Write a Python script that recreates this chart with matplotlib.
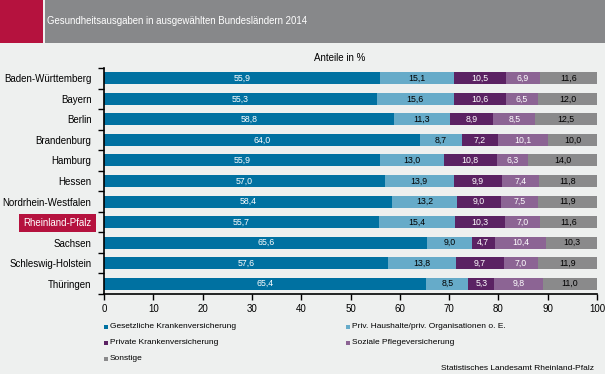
import matplotlib
matplotlib.use("Agg")
import matplotlib.pyplot as plt
from matplotlib.patches import Rectangle
import numpy as np

states = ["Baden-Württemberg", "Bayern", "Berlin", "Brandenburg", "Hamburg", "Hessen",
          "Nordrhein-Westfalen", "Rheinland-Pfalz", "Sachsen", "Schleswig-Holstein", "Thüringen"]
gkv = [55.9, 55.3, 58.8, 64.0, 55.9, 57.0, 58.4, 55.7, 65.6, 57.6, 65.4]
priv_hh = [15.1, 15.6, 11.3, 8.7, 13.0, 13.9, 13.2, 15.4, 9.0, 13.8, 8.5]
pkv = [10.5, 10.6, 8.9, 7.2, 10.8, 9.9, 9.0, 10.3, 4.7, 9.7, 5.3]
spv = [6.9, 6.5, 8.5, 10.1, 6.3, 7.4, 7.5, 7.0, 10.4, 7.0, 9.8]
sonst = [11.6, 12.0, 12.5, 10.0, 14.0, 11.8, 11.9, 11.6, 10.3, 11.9, 11.0]
series_names = ["Gesetzliche Krankenversicherung", "Priv. Haushalte/priv. Organisationen o. E.",
                "Private Krankenversicherung", "Soziale Pflegeversicherung", "Sonstige"]
series = [gkv, priv_hh, pkv, spv, sonst]
colors = ["#0071a1", "#66abc9", "#5b2263", "#8c6494", "#8a8a8b"]
text_colors = ["white", "black", "white", "white", "black"]
title = "Gesundheitsausgaben in ausgewählten Bundesländern 2014"
highlight = "Rheinland-Pfalz"

bg = "#eef0ef"
fig = plt.figure(figsize=(6.05, 3.74), dpi=100, facecolor=bg)
W, H = 605, 374

# header
fig.patches.append(Rectangle((0, 1 - 43 / H), 43 / W, 43 / H, transform=fig.transFigure,
                             facecolor="#b5123e", edgecolor="none", zorder=0))
fig.patches.append(Rectangle((45 / W, 1 - 43 / H), 560 / W, 43 / H, transform=fig.transFigure,
                             facecolor="#87888a", edgecolor="none", zorder=0))
fig.text(47 / W, 1 - 21 / H, title, color="white", fontsize=6.9, va="center", ha="left",
         family="Liberation Sans")

ax = fig.add_axes([104 / W, 1 - 294 / H, 493 / W, 226 / H])
ax.set_facecolor(bg)
y = np.arange(len(states))
left = np.zeros(len(states))
for vals, c, tc in zip(series, colors, text_colors):
    vals = np.array(vals)
    ax.barh(y, vals, left=left, height=0.58, color=c, edgecolor="none")
    for yi, l, v in zip(y, left, vals):
        ax.text(l + v / 2, yi, f"{v:.1f}".replace(".", ","), ha="center", va="center",
                color=tc, fontsize=6.3, family="Liberation Sans")
    left += vals

ax.set_xlim(0, 100)
ax.set_ylim(len(states) - 0.5, -0.5)
ax.set_xticks(np.arange(0, 101, 10))
ax.tick_params(axis="x", labelsize=7, length=4, width=1, pad=3)
ax.set_yticks(np.arange(-0.5, len(states), 1))
ax.set_yticklabels([])
ax.set_yticks(y, minor=True)
ax.set_yticklabels(states, minor=True, fontsize=7, family="Liberation Sans")
ax.tick_params(axis="y", which="minor", length=0, pad=9)
ax.tick_params(axis="y", which="major", length=4, width=1)
for lbl in ax.get_xticklabels():
    lbl.set_family("Liberation Sans")
for s in ["top", "right"]:
    ax.spines[s].set_visible(False)
for s in ["left", "bottom"]:
    ax.spines[s].set_linewidth(1.2)
for lbl in ax.get_yticklabels(minor=True):
    if lbl.get_text() == highlight:
        lbl.set_color("white")
        lbl.set_bbox(dict(facecolor="#b5123e", edgecolor="none", pad=3))

fig.text(340 / W, 1 - 58 / H, "Anteile in %", fontsize=7, ha="center", va="center",
         family="Liberation Sans")

# legend
legpos = [(104, 327), (346, 327), (104, 343), (346, 343), (104, 359)]
for (lx, ly), name, c in zip(legpos, series_names, colors):
    fig.patches.append(Rectangle((lx / W, 1 - (ly + 2) / H), 4 / W, 4 / H,
                                 transform=fig.transFigure, facecolor=c, edgecolor="none"))
    fig.text((lx + 6) / W, 1 - ly / H, name, fontsize=6, va="center", ha="left",
             family="Liberation Sans")

fig.text(594 / W, 1 - 368 / H, "Statistisches Landesamt Rheinland-Pfalz", fontsize=6,
         ha="right", va="center", family="Liberation Sans")

fig.savefig("out.png", dpi=100, facecolor=bg)
